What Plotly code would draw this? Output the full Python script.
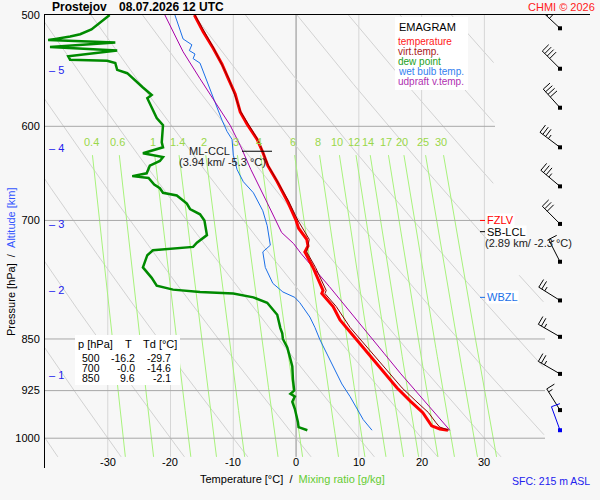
import numpy as np
import plotly.graph_objects as go

# Emagram, Prostejov 08.07.2026 12 UTC

STATION = "Prostejov"
VALID = "08.07.2026 12 UTC"

# temperature profile
temp_p = [500, 514, 528, 542, 555, 569, 586, 598, 613, 626, 640, 657, 678, 700, 709, 722, 730, 737,
          756, 776, 785, 789, 806, 824, 834, 850, 866, 880, 895, 921, 941, 959, 980, 985, 987]
temp_t = [-16.2, -14.8, -13.2, -11.8, -10.8, -9.7, -8.9, -7.8, -6.2, -5.3, -4.5, -3.0, -1.4, 0.0, 0.4,
          1.7, 1.9, 1.4, 2.7, 3.8, 4.3, 4.1, 5.9, 7.0, 8.0, 9.6, 11.1, 12.4, 13.8, 16.1, 18.2, 20.2,
          21.6, 22.9, 24.2]

# virtual temperature
tv_p = [500, 528, 555, 586, 613, 640, 678, 700, 722, 737, 756, 785, 789, 806, 834, 850, 866, 895,
        921, 941, 959, 975, 982, 987]
tv_t = [-16.1, -13.1, -10.7, -8.8, -6.1, -4.4, -1.2, 0.3, 2.1, 1.7, 3.1, 4.8, 4.6, 6.4, 8.6, 10.2,
        11.8, 14.5, 16.9, 19.1, 21.1, 22.3, 22.9, 24.4]

# dew point
dew_p = [500, 505, 512, 516, 518, 521, 523, 527, 530, 535, 538, 539, 541, 547, 550, 563, 570, 573,
         585, 592, 599, 616, 621, 627, 631, 635, 640, 644, 648, 651, 653, 660, 664, 669, 672, 681,
         687, 693, 700, 717, 726, 731, 735, 741, 756, 769, 779, 784, 787, 789, 794, 801, 817, 835,
         842, 850, 862, 875, 889, 908, 925, 930, 934, 942, 953, 974, 982, 987]
dew_t = [-29.7, -31.0, -32.6, -34.4, -36.0, -39.5, -28.8, -39.2, -28.5, -36.3, -36.0, -30.1, -28.8,
         -28.5, -26.9, -24.4, -23.0, -23.7, -22.8, -22.2, -21.2, -21.4, -21.2, -24.4, -21.2, -21.7,
         -23.3, -23.5, -23.8, -26.1, -23.5, -22.6, -21.7, -21.2, -19.0, -17.4, -16.9, -15.3, -14.6,
         -14.2, -15.8, -16.4, -22.8, -23.7, -24.4, -23.0, -22.2, -19.6, -15.3, -10.0, -6.8, -4.6,
         -3.0, -2.5, -2.2, -2.1, -1.4, -1.0, -0.6, -0.5, -0.3, -0.9, -0.2, -0.6, -0.2, 0.3, 0.4, 1.8]

# wet bulb temperature
wb_p = [500, 520, 525, 530, 533, 537, 541, 561, 577, 594, 605, 613, 629, 644, 657, 669, 689, 706,
        729, 737, 756, 776, 787, 794, 801, 820, 834, 851, 870, 895, 915, 934, 953, 970, 987]
wb_t = [-19.3, -18.0, -16.6, -17.0, -16.1, -16.4, -15.3, -14.0, -12.9, -11.8, -11.0, -10.2, -10.0,
        -9.4, -8.4, -6.8, -5.3, -4.6, -4.1, -5.3, -4.9, -3.7, -2.1, -0.2, 0.6, 2.2, 3.0, 3.8, 4.9,
        6.2, 7.3, 8.6, 9.7, 10.7, 12.1]

# updraft virtual temperature (surface parcel)
up_p = [500, 531, 555, 580, 599, 619, 644, 680, 714, 727, 739, 780, 824, 870, 900, 950, 987]
up_t = [-20.9, -18.0, -15.3, -12.6, -10.5, -8.9, -7.2, -4.6, -2.3, -0.4, 0.8, 5.3, 9.6, 14.0, 16.7,
        21.3, 24.5]

# wind (knots)
wind_p = [511, 546, 582, 621, 662, 704, 749, 798, 847, 900, 955]
wind_dir = [313, 315, 318, 307, 310, 315, 333, 302, 300, 300, 328]
wind_kt = [40, 40, 40, 35, 35, 30, 15, 25, 25, 25, 15]
sfc_wind_p, sfc_wind_dir, sfc_wind_kt = 987, 340, 10

# table
table_p = [500, 700, 850]
table_t = ["-16.2", "-0.0", "9.6"]
table_td = ["-29.7", "-14.6", "-2.1"]

# altitude ticks
alt_km = [1, 2, 3, 4, 5]
alt_p = [902, 784, 704, 622, 547]

# special levels
level_names = ["FZLV", "SB-LCL", "WBZL"]
level_p = [700, 713, 794]
level_colors = ["#ff0000", "#000000", "#1a6fe8"]
lcl_text = "(2.89 km/ -2.3 °C)"
ccl_p = 625
ccl_text = "(3.94 km/ -5.3 °C)"

# background lines
temp_ticks = [-30, -20, -10, 0, 10, 20, 30]
adiabat_t1000 = [-70, -60, -50, -40, -30, -20, -10, 0, 10, 20, 30, 40, 50, 60, 70, 80, 90, 100]
mix_ratios = [0.4, 0.6, 1, 1.4, 2, 3, 4, 6, 8, 10, 12, 14, 17, 20, 25, 30]
mix_labels = ["0.4", "0.6", "1", "1.4", "2", "3", "4", "6", "8", "10", "12", "14", "17", "20", "25", "30"]
p_levels = [600, 700, 850, 925, 1000]

# frame in page pixels
LEFT, RIGHT, TOP, BOTTOM = 45, 590, 15, 468
X_MIN, X_MAX = -40.0, 46.83
P_TOP, P_BOT = 500.0, 1050.0
PX_PER_C = (RIGHT - LEFT) / (X_MAX - X_MIN)
PX_PER_DEC = (BOTTOM - TOP) / (np.log10(P_BOT) - np.log10(P_TOP))

FONT = "Liberation Sans, Arial, sans-serif"
BG = "#f7f7f7"


def fx(px):
    return (px - LEFT) / (RIGHT - LEFT)


def fy(py):
    return (BOTTOM - py) / (BOTTOM - TOP)


def t_at(px):
    return X_MIN + (px - LEFT) / PX_PER_C


def py_of_p(p):
    return TOP + (np.log10(p) - np.log10(P_TOP)) * PX_PER_DEC


def dewpoint_from_w(w, p):
    e = w * p / (622.0 + w)
    a = np.log(e / 6.112)
    return 243.5 * a / (17.67 - a)


fig = go.Figure()


def add_line(x, y, color, width):
    fig.add_trace(go.Scatter(x=x, y=y, mode="lines", line=dict(color=color, width=width),
                             hoverinfo="skip", showlegend=False))


def add_box(px0, px1, py0, py1):
    p0 = P_TOP * 10 ** ((py0 - TOP) / PX_PER_DEC)
    p1 = P_TOP * 10 ** ((py1 - TOP) / PX_PER_DEC)
    x0, x1 = t_at(px0), t_at(px1)
    fig.add_trace(go.Scatter(x=[x0, x1, x1, x0, x0], y=[p0, p0, p1, p1, p0], mode="lines",
                             fill="toself", fillcolor="white", line=dict(width=0),
                             hoverinfo="skip", showlegend=False))


def text(px, py, s, size=11, color="black", anchor="left", **kw):
    fig.add_annotation(x=fx(px), y=fy(py), xref="paper", yref="paper", text=s, showarrow=False,
                       xanchor=anchor, yanchor="middle", font=dict(family=FONT, size=size, color=color),
                       **kw)


# vertical grid
for t in temp_ticks:
    add_line([t, t], [500, 1031], "#8c8c8c" if t == 0 else "#d6d6d6", 1)

# dry adiabats
pg = np.geomspace(500, 1031, 400)
xs, ys = [], []
for t0 in adiabat_t1000:
    t = (t0 + 273.15) * (pg / 1000.0) ** 0.2857 - 273.15
    lim = np.where(pg < 765, 31.5, 39.5)
    t = np.where(t <= lim, t, np.nan)
    xs += list(t) + [None]
    ys += list(pg) + [None]
add_line(xs, ys, "#d2d2d2", 1)

# mixing ratio lines
pm = np.geomspace(629, 1031, 40)
xs, ys = [], []
for w in mix_ratios:
    xs += list(dewpoint_from_w(w, pm)) + [None]
    ys += list(pm) + [None]
add_line(xs, ys, "#a8f27c", 1)

# pressure grid
grid_end_px = [495, 480, 545, 545, 545]
for p, e in zip(p_levels, grid_end_px):
    add_line([X_MIN, t_at(e)], [p, p], "#a8a8a8", 1)

# profiles
add_line(wb_t, wb_p, "#1a6fe8", 1)
add_line(dew_t, dew_p, "#008a00", 2.5)
add_line(up_t, up_p, "#a800a8", 1)
add_line(temp_t, temp_p, "#ff0000", 3)
add_line(tv_t, tv_p, "#8b0000", 1)

# ML-CCL marker
add_line([t_at(242), t_at(272)], [ccl_p, ccl_p], "black", 1)

# level ticks
for name, p, c in zip(level_names, level_p, level_colors):
    add_line([t_at(480), t_at(485)], [p, p], c, 1)

# white boxes
add_box(395, 468, 17, 90)
add_box(75, 180, 335, 385)


# wind barbs
BARB_X = 560
STAFF = 25


def barb(p0, direction, speed):
    d = np.radians(direction)
    s = np.array([np.sin(d), -np.cos(d)])
    f = np.array([-s[1], s[0]])
    segs = [((0, 0), tuple(STAFF * s))]
    n10, n5 = speed // 10, (speed % 10) >= 5
    pos = STAFF
    if n10 == 0 and n5:
        pos -= 3.5
    for _ in range(n10):
        b = pos * s
        segs.append((tuple(b), tuple(b + 9 * f)))
        pos -= 3.5
    if n5:
        b = pos * s
        segs.append((tuple(b), tuple(b + 4.5 * f)))
    x, y = [], []
    for a, b in segs:
        for dx, dy in (a, b):
            x.append(t_at(BARB_X + dx))
            y.append(p0 * 10 ** (dy / PX_PER_DEC))
        x.append(None)
        y.append(None)
    return x, y


bx, by = [], []
for p, d, v in zip(wind_p, wind_dir, wind_kt):
    x, y = barb(p, d, v)
    bx += x
    by += y
add_line(bx, by, "black", 1)
fig.add_trace(go.Scatter(x=[t_at(BARB_X)] * len(wind_p), y=wind_p, mode="markers",
                         marker=dict(symbol="square", size=4, color="black"),
                         hoverinfo="skip", showlegend=False))
x, y = barb(sfc_wind_p, sfc_wind_dir, sfc_wind_kt)
add_line(x, y, "#0000ee", 1)
fig.add_trace(go.Scatter(x=[t_at(BARB_X)], y=[sfc_wind_p], mode="markers",
                         marker=dict(symbol="square", size=4, color="#0000ee"),
                         hoverinfo="skip", showlegend=False))

# mixing ratio labels
for w, lab in zip(mix_ratios, mix_labels):
    px = 296 + dewpoint_from_w(w, 616) * PX_PER_C
    text(px, py_of_p(616), lab, size=11, color="#9ad84a", anchor="center")

# temperature tick labels
for t in temp_ticks:
    text(296 + t * PX_PER_C, 462, str(t), size=11, anchor="center")

# altitude ticks
for km, p in zip(alt_km, alt_p):
    text(47, py_of_p(p), "\u2013 " + str(km), size=11, color="#2222ee")

# axis titles
text(292, 479, "Temperature [°C]\u00a0\u00a0/\u00a0\u00a0<span style='color:#66cc33'>Mixing ratio [g/kg]</span>",
     anchor="center")
fig.add_annotation(x=fx(11), y=fy(262), xref="paper", yref="paper", showarrow=False, textangle=-90,
                   text="Pressure [hPa]\u00a0\u00a0/\u00a0\u00a0<span style='color:#3355ff'>Altitude [km]</span>",
                   font=dict(family=FONT, size=11, color="black"), xanchor="center", yanchor="middle")

# title and credits
text(50, 7, "<b>" + STATION + "</b>", size=12)
text(117, 7, "<b>" + VALID + "</b>", size=12)
text(597, 7, "CHMI © 2026", size=11, color="#ff2020", anchor="right")
text(551, 481, "SFC: 215 m ASL", size=10.5, color="#2222ee", anchor="center")

# legend box
text(397, 27, "EMAGRAM", size=11)
leg_names = ["temperature", "virt.temp.", "dew point", "wet bulb temp.", "udpraft v.temp."]
leg_colors = ["#ff2020", "#a82020", "#22a022", "#3380f0", "#b030b0"]
for i, (n, c) in enumerate(zip(leg_names, leg_colors)):
    text(396, 42 + i * 9.8, n, size=10, color=c)

# data table
text(95, 344, "p [hPa]", anchor="center")
text(128, 344, "T", anchor="center")
text(160, 344, "Td [°C]", anchor="center")
for i, (p, t, td) in enumerate(zip(table_p, table_t, table_td)):
    yy = 358 + i * 10
    text(102, yy, str(p), size=10.5, anchor="right")
    text(137, yy, t, size=10.5, anchor="right")
    text(173, yy, td, size=10.5, anchor="right")

# level labels
text(232, py_of_p(ccl_p), "ML-CCL", anchor="right", color="#222222")
text(222, py_of_p(ccl_p) + 11, ccl_text, anchor="center", color="#222222")
for name, p, c in zip(level_names, level_p, level_colors):
    text(486, py_of_p(p), name, color=c, bgcolor="white", borderpad=0)
text(528, py_of_p(level_p[1]) + 11, lcl_text, anchor="center", color="#222222")

fig.update_layout(
    width=600, height=500, autosize=False,
    margin=dict(l=LEFT, r=600 - RIGHT, t=TOP, b=500 - BOTTOM),
    paper_bgcolor=BG, plot_bgcolor=BG,
    showlegend=False,
    font=dict(family=FONT, size=11, color="black"),
    xaxis=dict(range=[X_MIN, X_MAX], side="top", showline=True, linecolor="black", linewidth=1,
               showgrid=False, zeroline=False, showticklabels=False, ticks="", fixedrange=True),
    yaxis=dict(type="log", range=[np.log10(P_BOT), np.log10(P_TOP)], tickvals=[500, 600, 700, 850, 925, 1000],
               ticktext=["500", "600", "700", "850", "925", "1000"], showline=True, linecolor="black",
               linewidth=1, showgrid=False, zeroline=False, ticks="outside", ticklen=2, tickcolor=BG,
               tickfont=dict(family=FONT, size=11, color="black"), fixedrange=True),
)

# page body has a default 8px margin; drop it so the figure sits at the window corner
fig.write_html("out.html", config={"displayModeBar": False},
               post_script="document.body.style.margin = '0px';")
